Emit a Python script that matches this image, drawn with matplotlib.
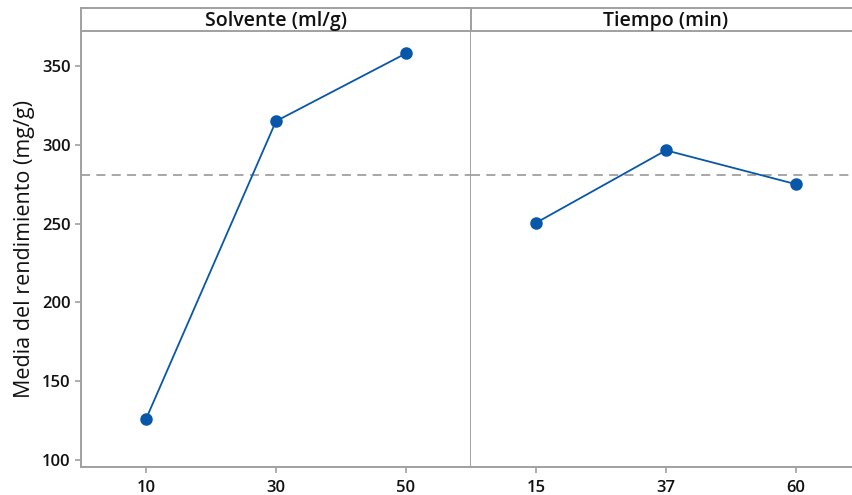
import matplotlib.pyplot as plt

plt.rcParams['font.family'] = ['Open Sans', 'DejaVu Sans']

# main effects: mean yield per factor level
solvente_levels = ['10', '30', '50']
solvente_means = [126.0, 315.0, 358.0]
tiempo_levels = ['15', '37', '60']
tiempo_means = [250.5, 296.5, 275.0]
overall_mean = 281.0

panels = [('Solvente (ml/g)', solvente_levels, solvente_means),
          ('Tiempo (min)', tiempo_levels, tiempo_means)]

W, H = 853, 495
fig = plt.figure(figsize=(W / 100, H / 100), dpi=100)

grey = '#a0a0a0'
blue = '#0857a8'

left, panel_w = 81, 390
top, bottom, strip_top = 31, 467, 8

axes = []
for i, (title, levels, means) in enumerate(panels):
    x0 = left + i * panel_w
    ax = fig.add_axes([x0 / W, 1 - bottom / H, panel_w / W, (bottom - top) / H])
    pos = list(range(1, len(levels) + 1))
    ax.axhline(overall_mean, color='#a0a0a0', lw=1.3, ls=(0, (5, 3.5)), zorder=1)
    ax.plot(pos, means, color=blue, lw=1.3, marker='o', ms=8, zorder=3)
    ax.set_xlim(0.5, len(levels) + 0.5)
    ax.set_ylim(95.6, 372.2)
    ax.set_xticks(pos)
    ax.set_xticklabels(levels)
    ax.set_yticks([100, 150, 200, 250, 300, 350])
    for s in ax.spines.values():
        s.set_color(grey)
        s.set_linewidth(1.4)
    ax.spines['top'].set_visible(False)
    if i == 0:
        ax.spines['right'].set_visible(True)
    else:
        ax.spines['left'].set_visible(False)
        ax.spines['right'].set_visible(False)
        ax.tick_params(axis='y', left=False, labelleft=False)
    ax.tick_params(colors=grey, length=4, width=1.2, labelcolor='#111111', labelsize=12)
    for lab in ax.get_xticklabels() + ax.get_yticklabels():
        lab.set_fontweight('semibold')
    ax.tick_params(axis='x', pad=5)

    # header strip
    sax = fig.add_axes([x0 / W, 1 - top / H, panel_w / W, (top - strip_top) / H])
    sax.set_xticks([])
    sax.set_yticks([])
    for s in sax.spines.values():
        s.set_color(grey)
        s.set_linewidth(1.4)
    if i == 1:
        sax.spines['right'].set_visible(False)
    sax.text(0.5, 0.42, title, ha='center', va='center', fontsize=14,
             fontweight='semibold', color='#111111', transform=sax.transAxes)
    axes.append(ax)

axes[0].set_ylabel('Media del rendimiento (mg/g)', fontsize=15.5, color='#111111', labelpad=5)

fig.savefig('out.png', dpi=100)
